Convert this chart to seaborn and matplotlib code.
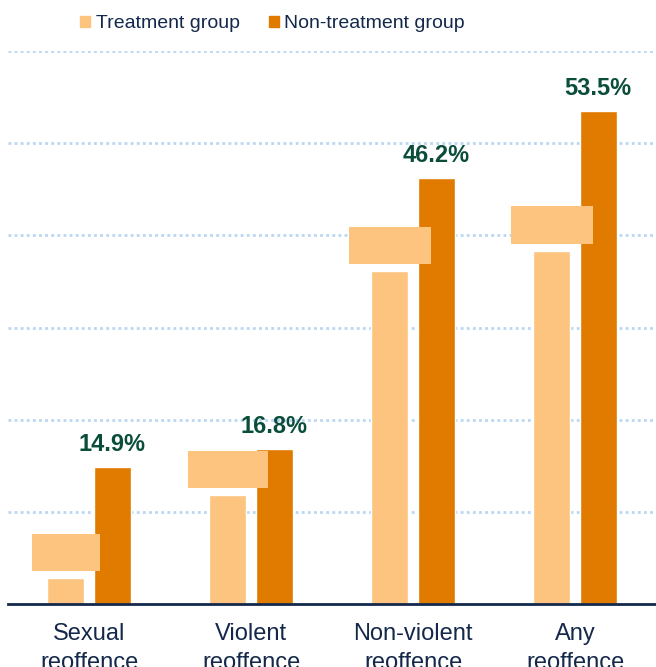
import pandas as pd
import numpy as np
import matplotlib
matplotlib.use("Agg")
import matplotlib.pyplot as plt
import seaborn as sns

# data -----------------------------------------------------------------------
categories = ["Sexual\nreoffence", "Violent\nreoffence", "Non-violent\nreoffence", "Any\nreoffence"]
groups = ["Treatment group", "Non-treatment group"]
treatment = [2.8, 11.8, 36.1, 38.3]
non_treatment = [14.9, 16.8, 46.2, 53.5]
yticks = [10, 20, 30, 40, 50, 60]

light = "#FDC480"
dark = "#E07B00"
navy = "#14284B"
green = "#0B4D3B"
grid_col = "#B9D7F2"

df = pd.DataFrame({
    "category": categories * 2,
    "group": [groups[0]] * 4 + [groups[1]] * 4,
    "value": treatment + non_treatment,
})

sns.set_style("white")
plt.rcParams["font.family"] = ["Liberation Sans", "DejaVu Sans"]

fig = plt.figure(figsize=(6.56, 6.67), dpi=100)
ax = fig.add_axes([8 / 656, 1 - 604 / 667, 648 / 656, (604 - 51) / 667])

sns.barplot(data=df, x="category", y="value", hue="group", hue_order=groups,
            palette=[light, dark], width=0.57, gap=0.2, saturation=1,
            legend=False, ax=ax)

ax.set_xlim(-0.5, 3.5)
ax.set_ylim(0, 60)
ax.set_yticks(yticks)
ax.set_yticklabels([])
ax.tick_params(axis="y", length=0)
ax.tick_params(axis="x", length=0, pad=14, labelsize=17, labelcolor=navy)
for lbl in ax.get_xticklabels():
    lbl.set_linespacing(1.4)
ax.set_xlabel("")
ax.set_ylabel("")
ax.yaxis.grid(True, color=grid_col, linestyle=(0, (1, 1.2)), linewidth=2)
ax.set_axisbelow(True)
for s in ["left", "right", "top"]:
    ax.spines[s].set_visible(False)
ax.spines["bottom"].set_color(navy)
ax.spines["bottom"].set_linewidth(2)

# value labels
ax.bar_label(ax.containers[1], labels=[f"{v}%" for v in non_treatment],
             padding=8, fontsize=17, fontweight="bold", color=green)
# treatment labels sit in boxes of the same colour (text hidden in the reference)
ax.bar_label(ax.containers[0], labels=[f"{v}%" for v in treatment],
             padding=10.5, fontsize=17, fontweight="bold", color=light,
             bbox=dict(boxstyle="square,pad=0.3", facecolor=light, edgecolor="none"))

# legend
handles = [plt.Rectangle((0, 0), 1, 1, color=c) for c in [light, dark]]
leg = fig.legend(handles, groups, loc="center left", bbox_to_anchor=(80 / 656, 1 - 24 / 667),
                 ncol=2, frameon=False, handlelength=0.52, handleheight=0.52,
                 handletextpad=0.28, columnspacing=1.5, borderpad=0, borderaxespad=0,
                 prop={"family": "Liberation Sans", "size": 14})
for t in leg.get_texts():
    t.set_color(navy)

fig.savefig("out.png", dpi=100)
